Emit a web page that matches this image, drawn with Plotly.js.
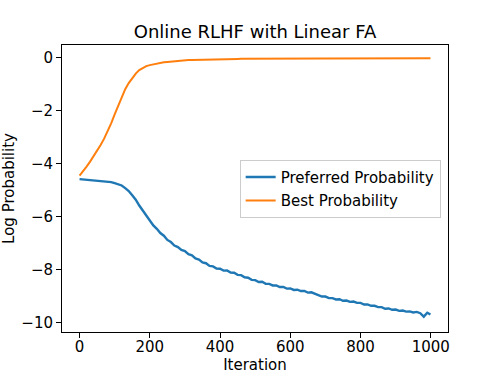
<!DOCTYPE html>
<html>
<head>
<meta charset="utf-8">
<script src="https://cdn.plot.ly/plotly-3.0.1.min.js"></script>
<style>html,body{margin:0;padding:0;background:#fff;}#chart{width:498px;height:374px;}</style>
</head>
<body>
<div id="chart"></div>
<script>
const iterations = [0,10,20,30,40,50,60,70,80,90,100,110,120,130,140,150,160,170,180,190,200,210,220,230,240,250,260,270,280,290,300,310,320,330,340,350,360,370,380,390,400,410,420,430,440,450,460,470,480,490,500,510,520,530,540,550,560,570,580,590,600,610,620,630,640,650,660,670,680,690,700,710,720,730,740,750,760,770,780,790,800,810,820,830,840,850,860,870,880,890,900,910,920,930,940,950,960,970,980,990,999];

const preferredProb = [-4.58,-4.59,-4.60,-4.61,-4.625,-4.63,-4.645,-4.655,-4.685,-4.695,-4.73,-4.765,-4.82,-4.92,-5.03,-5.19,-5.36,-5.58,-5.76,-5.98,-6.14,-6.33,-6.46,-6.62,-6.72,-6.88,-6.96,-7.09,-7.15,-7.26,-7.30,-7.42,-7.46,-7.58,-7.62,-7.73,-7.76,-7.86,-7.88,-7.96,-7.97,-8.04,-8.03,-8.11,-8.12,-8.20,-8.21,-8.29,-8.31,-8.39,-8.40,-8.47,-8.46,-8.54,-8.54,-8.60,-8.60,-8.66,-8.66,-8.72,-8.71,-8.77,-8.76,-8.81,-8.81,-8.87,-8.86,-8.92,-8.95,-9.02,-9.02,-9.08,-9.08,-9.13,-9.12,-9.18,-9.17,-9.22,-9.21,-9.26,-9.26,-9.32,-9.32,-9.37,-9.37,-9.42,-9.42,-9.48,-9.47,-9.52,-9.51,-9.56,-9.55,-9.59,-9.58,-9.62,-9.60,-9.65,-9.78,-9.63,-9.70];

const bestProb = [-4.45,-4.29,-4.11,-3.92,-3.72,-3.51,-3.29,-3.05,-2.78,-2.47,-2.13,-1.79,-1.46,-1.18,-0.95,-0.76,-0.59,-0.46,-0.37,-0.31,-0.27,-0.24,-0.21,-0.185,-0.165,-0.15,-0.135,-0.12,-0.107,-0.097,-0.088,-0.080,-0.074,-0.069,-0.064,-0.060,-0.056,-0.053,-0.050,-0.047,-0.045,-0.043,-0.041,-0.039,-0.037,-0.035,-0.034,-0.032,-0.031,-0.030,-0.029,-0.028,-0.027,-0.026,-0.025,-0.025,-0.024,-0.023,-0.023,-0.022,-0.021,-0.021,-0.020,-0.020,-0.019,-0.019,-0.018,-0.018,-0.017,-0.017,-0.017,-0.016,-0.016,-0.016,-0.015,-0.015,-0.015,-0.014,-0.014,-0.014,-0.014,-0.013,-0.013,-0.013,-0.013,-0.013,-0.012,-0.012,-0.012,-0.012,-0.012,-0.011,-0.011,-0.011,-0.011,-0.011,-0.011,-0.010,-0.010,-0.010,-0.010];

const xTicks = [0,200,400,600,800,1000];
const yTicks = [0,-2,-4,-6,-8,-10];

const font = "DejaVu Sans, sans-serif";

const traces = [
  {x: iterations, y: preferredProb, mode: 'lines', name: 'Preferred Probability', legendgroup: 'a',
   line: {color: '#1f77b4', width: 2.4}},
  {x: iterations, y: bestProb, mode: 'lines', name: 'Best Probability', legendgroup: 'b',
   line: {color: '#ff7f0e', width: 2}}
];

const axisCommon = {
  showgrid: false, zeroline: false, showline: true, mirror: true,
  linecolor: '#000', linewidth: 1, ticks: 'outside', ticklen: 5, tickwidth: 1,
  tickcolor: '#000', tickfont: {family: font, size: 15, color: '#000'},
  automargin: false
};

const layout = {
  width: 498, height: 374,
  margin: {l: 62, r: 50, t: 45, b: 42},
  paper_bgcolor: '#fff', plot_bgcolor: '#fff',
  font: {family: font, color: '#000'},
  title: {text: 'Online RLHF with Linear FA', font: {family: font, size: 18, color: '#000'},
          x: 0.5, xref: 'paper', y: 1 - 32/374, yref: 'container', yanchor: 'middle'},
  xaxis: Object.assign({}, axisCommon, {
    range: [-49.95, 1048.95], tickvals: xTicks, ticktext: xTicks.map(String),
    ticklabelstandoff: -4,
    title: {text: 'Iteration', font: {family: font, size: 15, color: '#000'}, standoff: 8}
  }),
  yaxis: Object.assign({}, axisCommon, {
    range: [-10.36, 0.49], tickvals: yTicks, ticktext: yTicks.map(v => v < 0 ? '\u2212' + Math.abs(v) : String(v)),
    title: {text: 'Log Probability', font: {family: font, size: 15, color: '#000'}, standoff: 6}
  }),
  showlegend: true,
  legend: {x: 0.981, xanchor: 'right', y: 0.6, yanchor: 'top',
           traceorder: 'grouped', tracegroupgap: 1,
           bgcolor: 'rgba(255,255,255,0.8)', bordercolor: '#cccccc', borderwidth: 1,
           font: {family: font, size: 15, color: '#000'}}
};

Plotly.newPlot('chart', traces, layout, {displayModeBar: false, staticPlot: true});
</script>
</body>
</html>
